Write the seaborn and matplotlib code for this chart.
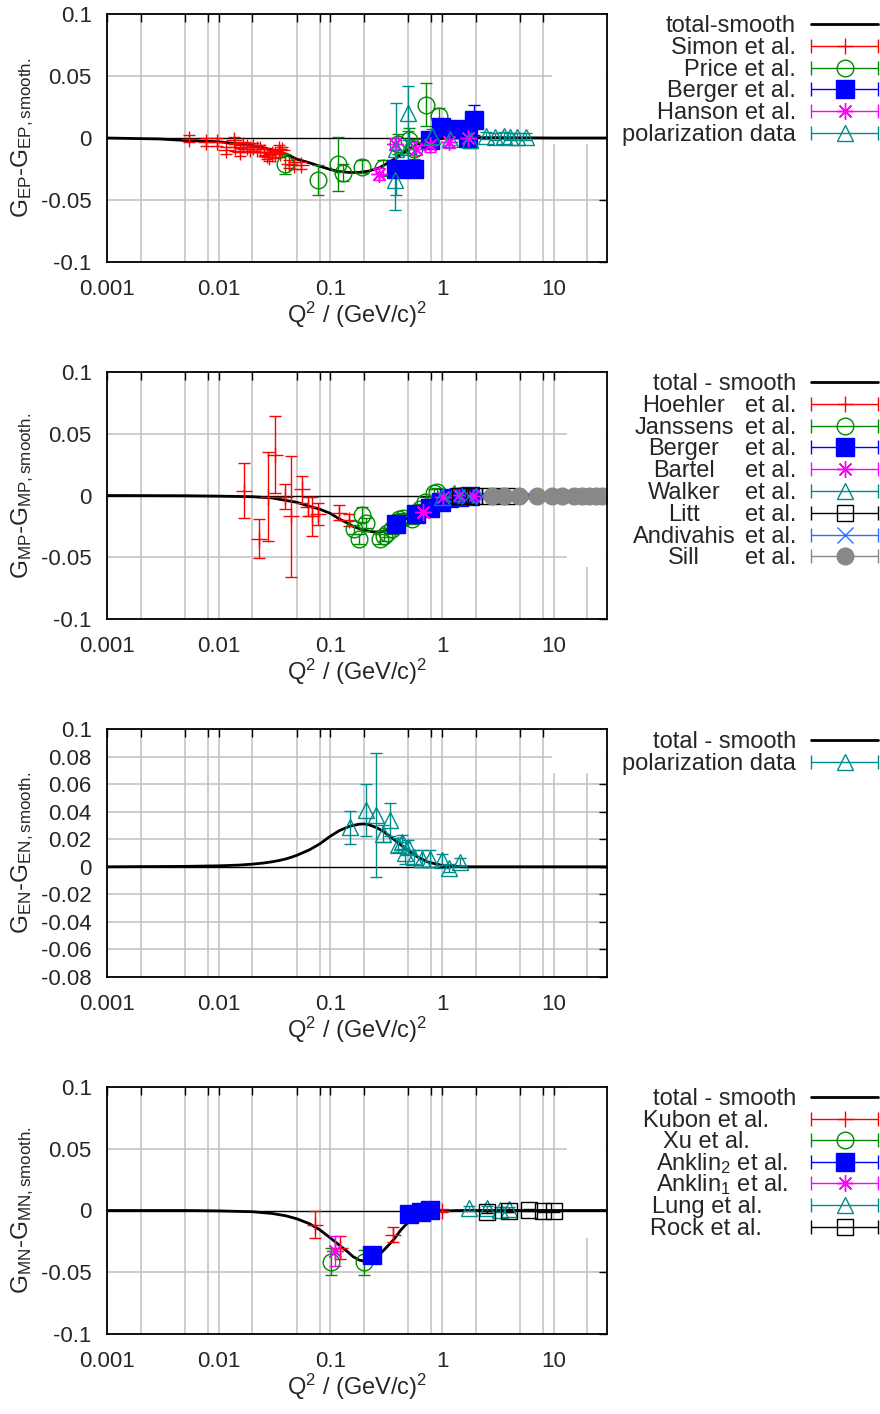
import numpy as np
import pandas as pd
import matplotlib
matplotlib.use("Agg")
import matplotlib.pyplot as plt
import seaborn as sns
from matplotlib.ticker import FixedLocator, FuncFormatter, NullLocator
from matplotlib.patches import Rectangle

# ------------------------------------------------------------------ data
# Panel 1 : G_EP
gep_curve_q2 = [0.001, 0.003, 0.005, 0.01, 0.02, 0.03, 0.04, 0.05, 0.065, 0.08, 0.1, 0.12, 0.15,
                0.18, 0.22, 0.27, 0.33, 0.4, 0.5, 0.6, 0.75, 1.0, 1.5, 3.0, 10.0, 30.0]
gep_curve_y = [0.0, -0.0008, -0.002, -0.003, -0.006, -0.0095, -0.013, -0.017, -0.020, -0.0227, -0.0254,
               -0.027, -0.0278, -0.0278, -0.0267, -0.0243, -0.020, -0.0154, -0.0092, -0.0051, -0.0019,
               -0.0003, 0.0003, 0.0003, 0.0, 0.0]
simon_q2 = [0.00547, 0.0077, 0.00963, 0.0117, 0.0136, 0.0141, 0.0156, 0.0165, 0.0179, 0.0191, 0.0205,
            0.0220, 0.0236, 0.0253, 0.0271, 0.0284, 0.0300, 0.0322, 0.0345, 0.0357, 0.0369, 0.0424,
            0.0470, 0.0541]
simon_y = [-0.0005, -0.0032, -0.0032, -0.0100, -0.0019, -0.0073, -0.0113, -0.0059, -0.0073, -0.0086,
           -0.0073, -0.0086, -0.0086, -0.0113, -0.0140, -0.0154, -0.0127, -0.0132, -0.0086, -0.0122,
           -0.0100, -0.0208, -0.0221, -0.0221]
simon_err = [0.003] * 24
price_q2 = [0.039, 0.078, 0.116, 0.129, 0.192, 0.295, 0.40, 0.51, 0.566, 0.72, 0.946]
price_y = [-0.021, -0.034, -0.021, -0.028, -0.023, -0.024, -0.005, -0.002, -0.009, 0.027, 0.018]
price_err = [0.008, 0.012, 0.022, 0.007, 0.005, 0.006, 0.008, 0.010, 0.008, 0.017, 0.006]
bergerE_q2 = [0.39, 0.56, 0.78, 0.97, 1.32, 1.70, 1.93]
bergerE_y = [-0.0246, -0.0246, -0.002, 0.009, 0.0076, 0.0, 0.0143]
bergerE_err = [0.004, 0.004, 0.005, 0.005, 0.006, 0.006, 0.012]
hanson_q2 = [0.27, 0.38, 0.58, 0.78, 1.16, 1.70]
hanson_y = [-0.029, -0.0046, -0.0086, -0.006, -0.003, 0.0]
hanson_err = [0.005, 0.005, 0.005, 0.005, 0.005, 0.005]
polE_q2 = [0.38, 0.39, 0.50, 0.50, 0.81, 1.19, 1.78, 2.5, 3.0, 3.57, 4.1, 4.7, 5.6]
polE_y = [-0.034, -0.0086, 0.020, -0.007, 0.002, -0.0005, -0.002, 0.002, 0.001, 0.002, 0.001, 0.001, 0.001]
polE_err = [0.024, 0.037, 0.022, 0.013, 0.005, 0.005, 0.006, 0.003, 0.003, 0.003, 0.003, 0.003, 0.003]

# Panel 2 : G_MP
gmp_curve_q2 = [0.001, 0.005, 0.01, 0.02, 0.03, 0.04, 0.05, 0.065, 0.08, 0.1, 0.12, 0.14, 0.16, 0.18,
                0.2, 0.24, 0.28, 0.33, 0.4, 0.5, 0.6, 0.75, 1.0, 1.4, 2.0, 5.0, 30.0]
gmp_curve_y = [0.0, -0.0002, -0.0005, -0.001, -0.002, -0.004, -0.0055, -0.0088, -0.011, -0.0145, -0.019,
               -0.022, -0.025, -0.0267, -0.028, -0.0294, -0.0296, -0.028, -0.024, -0.0174, -0.0128,
               -0.0077, -0.0035, -0.0013, -0.0003, 0.0, 0.0]
hoehler_q2 = [0.0169, 0.0232, 0.0279, 0.032, 0.039, 0.0446, 0.056, 0.0625, 0.069, 0.078, 0.119, 0.146]
hoehler_y = [0.004, -0.035, -0.001, 0.033, -0.001, -0.017, 0.005, -0.009, -0.017, -0.015, -0.014, -0.020]
hoehler_err = [0.022, 0.016, 0.036, 0.031, 0.010, 0.049, 0.011, 0.008, 0.016, 0.009, 0.006, 0.005]
janssens_q2 = [0.162, 0.179, 0.192, 0.21, 0.28, 0.30, 0.32, 0.36, 0.41, 0.45, 0.54, 0.64, 0.71, 0.84, 0.90]
janssens_y = [-0.0275, -0.035, -0.0155, -0.022, -0.035, -0.033, -0.030, -0.027, -0.019, -0.018, -0.019,
              -0.011, -0.005, 0.002, 0.003]
janssens_err = [0.004, 0.004, 0.006, 0.004, 0.004, 0.004, 0.004, 0.004, 0.004, 0.004, 0.004, 0.004,
                0.004, 0.003, 0.003]
bergerM_q2 = [0.39, 0.59, 0.785, 0.97, 1.15, 1.41, 1.79]
bergerM_y = [-0.023, -0.015, -0.010, -0.005, -0.002, -0.001, 0.0]
bergerM_err = [0.004, 0.003, 0.003, 0.003, 0.003, 0.003, 0.003]
bartel_q2 = [0.68, 1.03, 1.41, 1.9]
bartel_y = [-0.013, -0.001, 0.0005, 0.0]
bartel_err = [0.004, 0.003, 0.003, 0.003]
walker_q2 = [1.0, 1.27, 1.6]
walker_y = [-0.001, 0.002, 0.0]
walker_err = [0.003, 0.003, 0.003]
litt_q2 = [1.46, 1.92, 2.7, 3.8]
litt_y = [0.0, 0.0, 0.0, 0.0]
litt_err = [0.002, 0.002, 0.002, 0.002]
andivahis_q2 = [1.75, 2.35, 4.3, 6.1]
andivahis_y = [0.0, 0.0, 0.0, 0.0]
andivahis_err = [0.002, 0.002, 0.002, 0.002]
sill_q2 = [2.8, 3.6, 4.9, 7.1, 9.7, 11.9, 15.1, 18.0, 20.6, 23.7, 27.2]
sill_y = [0.0] * 11
sill_err = [0.001] * 11

# Panel 3 : G_EN
gen_curve_q2 = [0.001, 0.003, 0.005, 0.01, 0.015, 0.02, 0.025, 0.03, 0.035, 0.04, 0.045, 0.05, 0.065,
                0.08, 0.1, 0.12, 0.15, 0.18, 0.2, 0.22, 0.26, 0.3, 0.35, 0.4, 0.5, 0.6, 0.75, 1.0, 1.5, 30.0]
gen_curve_y = [0.0, 0.0002, 0.0003, 0.0007, 0.0012, 0.0019, 0.0027, 0.0036, 0.0046, 0.0057, 0.0070,
               0.0083, 0.0123, 0.0165, 0.0222, 0.0262, 0.0295, 0.0309, 0.0311, 0.0306, 0.0284, 0.0255,
               0.0214, 0.0177, 0.0117, 0.0073, 0.0034, 0.001, 0.0, 0.0]
polN_q2 = [0.151, 0.209, 0.257, 0.296, 0.344, 0.40, 0.44, 0.47, 0.50, 0.556, 0.66, 0.785, 1.0, 1.15, 1.46]
polN_y = [0.0287, 0.041, 0.0377, 0.024, 0.034, 0.016, 0.018, 0.0097, 0.0146, 0.0073, 0.006, 0.006, 0.005,
          -0.001, 0.0036]
polN_err = [0.012, 0.019, 0.045, 0.006, 0.012, 0.005, 0.005, 0.008, 0.005, 0.005, 0.006, 0.006, 0.004,
            0.003, 0.003]

# Panel 4 : G_MN
gmn_curve_q2 = [0.001, 0.005, 0.01, 0.02, 0.03, 0.04, 0.05, 0.065, 0.08, 0.1, 0.12, 0.14, 0.16, 0.18,
                0.2, 0.22, 0.25, 0.28, 0.32, 0.37, 0.43, 0.5, 0.6, 0.75, 1.0, 1.5, 30.0]
gmn_curve_y = [0.0, 0.0, -0.0003, -0.001, -0.0024, -0.0043, -0.0067, -0.0107, -0.0155, -0.0222, -0.028,
               -0.0328, -0.0374, -0.040, -0.0411, -0.0408, -0.0387, -0.035, -0.0296, -0.0235, -0.0155,
               -0.0093, -0.0048, -0.0016, -0.0003, 0.0, 0.0]
kubon_q2 = [0.073, 0.122, 0.363, 0.99]
kubon_y = [-0.0115, -0.030, -0.0195, 0.0]
kubon_err = [0.011, 0.009, 0.006, 0.001]
xu_q2 = [0.101, 0.20]
xu_y = [-0.0414, -0.042]
xu_err = [0.011, 0.010]
anklin2_q2 = [0.236, 0.51, 0.65, 0.785]
anklin2_y = [-0.0363, -0.003, -0.0013, 0.0005]
anklin2_err = [0.003, 0.003, 0.003, 0.003]
anklin1_q2 = [0.11]
anklin1_y = [-0.033]
anklin1_err = [0.012]
lung_q2 = [1.73, 2.53, 3.3, 4.0]
lung_y = [0.002, 0.002, 0.0005, 0.001]
lung_err = [0.002, 0.002, 0.002, 0.002]
rock_q2 = [2.53, 4.0, 6.0, 8.1, 10.0]
rock_y = [-0.001, 0.0, 0.0005, -0.0003, -0.0003]
rock_err = [0.001, 0.001, 0.001, 0.001, 0.001]

xtick_major = [0.001, 0.01, 0.1, 1, 10]
xtick_minor = [0.002, 0.005, 0.008, 0.02, 0.05, 0.08, 0.2, 0.5, 0.8, 2, 5, 8, 20]
yticks_a = [-0.1, -0.05, 0.0, 0.05, 0.1]
yticks_c = [-0.08, -0.06, -0.04, -0.02, 0.0, 0.02, 0.04, 0.06, 0.08, 0.1]

# ------------------------------------------------------------------ style
sns.set_theme(style="white")
plt.rcParams["font.family"] = ["Liberation Sans", "DejaVu Sans"]
plt.rcParams["mathtext.fontset"] = "custom"
plt.rcParams["mathtext.rm"] = "Liberation Sans"
plt.rcParams["mathtext.it"] = "Liberation Sans:italic"
plt.rcParams["mathtext.bf"] = "Liberation Sans:bold"
FS = 16
FS_KEY = 17
FS_LAB = 17.5

RED, GREEN, BLUE, MAG, TEAL, BLK, LBLUE, GREY = ("#ff0000", "#008a00", "#0000ff", "#ff00ff",
                                                 "#008b8b", "#000000", "#2a6fff", "#888888")
STYLES = {
    "plus": dict(marker="+", filled=False, ms=12),
    "circle": dict(marker="o", filled=False, ms=12),
    "fsquare": dict(marker="s", filled=True, ms=12.5),
    "star": dict(marker=(8, 2, 0), filled=False, ms=12),
    "tri": dict(marker="^", filled=False, ms=12),
    "square": dict(marker="s", filled=False, ms=12),
    "x": dict(marker="x", filled=False, ms=12),
    "fcircle": dict(marker="o", filled=True, ms=12),
}

W, H = 880, 1414
fig = plt.figure(figsize=(W / 100, H / 100), dpi=100)
ov = fig.add_axes([0, 0, 1, 1], zorder=10)
ov.set_xlim(0, W)
ov.set_ylim(H, 0)
ov.axis("off")

XLABEL = r"Q$^2$ / (GeV/c)$^2$"


def make_axes(top, bottom, ylim, yticks, white_x, white_y):
    ax = fig.add_axes([107 / W, 1 - bottom / H, 500 / W, (bottom - top) / H])
    ax.set_xscale("log")
    ax.set_xlim(0.001, 30)
    ax.set_ylim(*ylim)
    ticks = sorted(xtick_major + xtick_minor)
    ax.xaxis.set_major_locator(FixedLocator(ticks))
    ax.xaxis.set_minor_locator(NullLocator())
    ax.xaxis.set_major_formatter(FuncFormatter(lambda v, p: ("%g" % v) if v in xtick_major else ""))
    ax.yaxis.set_major_locator(FixedLocator(yticks))
    ax.yaxis.set_major_formatter(FuncFormatter(lambda v, p: "%g" % round(v, 3)))
    ax.tick_params(direction="in", length=6, width=1, top=True, right=True, labelsize=FS, color="black")
    ax.tick_params(axis="y", pad=11)
    ax.tick_params(axis="x", pad=12.5)
    for s in ax.spines.values():
        s.set_color("black")
        s.set_linewidth(1.3)
        s.set_zorder(5)
    # grid
    for t in ticks:
        ax.axvline(t, color="#c0c0c0", lw=1.1, zorder=0.5)
    for t in yticks:
        if abs(t) > 1e-9:
            ax.axhline(t, color="#c0c0c0", lw=1.1, zorder=0.5)
    ax.add_patch(Rectangle((white_x, white_y), 1 - white_x, 1 - white_y, transform=ax.transAxes,
                           facecolor="white", edgecolor="none", zorder=0.8))
    ax.axhline(0, color="black", lw=1.0, zorder=1)
    return ax


def labels(ax, ylabel):
    ax.set_ylabel(ylabel, fontsize=FS_LAB, va="center")
    ax.yaxis.set_label_coords(-0.168, 0.5)
    ax.set_xlabel(XLABEL, fontsize=FS_KEY, va="center")
    ax.xaxis.set_label_coords(0.5, -0.215)


def curve(ax, q2, y):
    df = pd.DataFrame({"q2": q2, "y": y})
    sns.lineplot(data=df, x="q2", y="y", ax=ax, color="black", lw=2.0, sort=False,
                 estimator=None, zorder=3)


def points(ax, q2, y, err, color, style):
    st = STYLES[style]
    ax.errorbar(q2, y, yerr=err, fmt="none", ecolor=color, elinewidth=1.0, capsize=4,
                capthick=1.0, zorder=4)
    ax.plot(q2, y, linestyle="none", marker=st["marker"], ms=st["ms"], mec=color,
            mfc=color if st["filled"] else "none", mew=1.0, zorder=4.5)


def key_line(y):
    ov.plot([811, 878], [y, y], color="black", lw=2.0)


def key_err(y, color, style):
    st = STYLES[style]
    ov.errorbar([844.5], [y], xerr=[[33.5], [33.5]], fmt="none", ecolor=color, elinewidth=1.0,
                capsize=5, capthick=1.0)
    ov.plot([844.5], [y], linestyle="none", marker=st["marker"], ms=st["ms"], mec=color,
            mfc=color if st["filled"] else "none", mew=1.0)


def key_text(x, y, s, ha="right"):
    ov.text(x, y + 8, s, ha=ha, va="baseline", fontsize=FS_KEY)


# ------------------------------------------------------------------ panel 1
ax1 = make_axes(14, 262, (-0.1, 0.1), yticks_a, 0.89, 0.476)
curve(ax1, gep_curve_q2, gep_curve_y)
points(ax1, simon_q2, simon_y, simon_err, RED, "plus")
points(ax1, price_q2, price_y, price_err, GREEN, "circle")
points(ax1, bergerE_q2, bergerE_y, bergerE_err, BLUE, "fsquare")
points(ax1, hanson_q2, hanson_y, hanson_err, MAG, "star")
points(ax1, polE_q2, polE_y, polE_err, TEAL, "tri")
labels(ax1, r"G$_{\mathrm{EP}}$-G$_{\mathrm{EP,smooth.}}$")
rows = [24 + 21.8 * i for i in range(6)]
key_text(796, rows[0], "total-smooth"); key_line(rows[0])
for r, (lab, col, st) in zip(rows[1:], [("Simon et al.", RED, "plus"), ("Price et al.", GREEN, "circle"),
                                        ("Berger et al.", BLUE, "fsquare"), ("Hanson et al.", MAG, "star"),
                                        ("polarization data", TEAL, "tri")]):
    key_text(796, r, lab); key_err(r, col, st)

# ------------------------------------------------------------------ panel 2
ax2 = make_axes(372, 619, (-0.1, 0.1), yticks_a, 0.92, 0.21)
curve(ax2, gmp_curve_q2, gmp_curve_y)
points(ax2, hoehler_q2, hoehler_y, hoehler_err, RED, "plus")
points(ax2, janssens_q2, janssens_y, janssens_err, GREEN, "circle")
points(ax2, bergerM_q2, bergerM_y, bergerM_err, BLUE, "fsquare")
points(ax2, bartel_q2, bartel_y, bartel_err, MAG, "star")
points(ax2, walker_q2, walker_y, walker_err, TEAL, "tri")
points(ax2, litt_q2, litt_y, litt_err, BLK, "square")
points(ax2, andivahis_q2, andivahis_y, andivahis_err, LBLUE, "x")
points(ax2, sill_q2, sill_y, sill_err, GREY, "fcircle")
labels(ax2, r"G$_{\mathrm{MP}}$-G$_{\mathrm{MP,smooth.}}$")
rows = [382 + 21.8 * i for i in range(9)]
key_text(796, rows[0], "total - smooth"); key_line(rows[0])
for r, (lab, col, st) in zip(rows[1:], [("Hoehler", RED, "plus"), ("Janssens", GREEN, "circle"),
                                        ("Berger", BLUE, "fsquare"), ("Bartel", MAG, "star"),
                                        ("Walker", TEAL, "tri"), ("Litt", BLK, "square"),
                                        ("Andivahis", LBLUE, "x"), ("Sill", GREY, "fcircle")]):
    key_text(684, r, lab, ha="center"); key_text(796, r, "et al."); key_err(r, col, st)

# ------------------------------------------------------------------ panel 3
ax3 = make_axes(729, 977, (-0.08, 0.1), yticks_c, 0.89, 0.823)
curve(ax3, gen_curve_q2, gen_curve_y)
points(ax3, polN_q2, polN_y, polN_err, TEAL, "tri")
labels(ax3, r"G$_{\mathrm{EN}}$-G$_{\mathrm{EN,smooth.}}$")
rows = [740 + 21.8 * i for i in range(2)]
key_text(796, rows[0], "total - smooth"); key_line(rows[0])
key_text(796, rows[1], "polarization data"); key_err(rows[1], TEAL, "tri")

# ------------------------------------------------------------------ panel 4
ax4 = make_axes(1087, 1334, (-0.1, 0.1), yticks_a, 0.92, 0.389)
curve(ax4, gmn_curve_q2, gmn_curve_y)
points(ax4, kubon_q2, kubon_y, kubon_err, RED, "plus")
points(ax4, xu_q2, xu_y, xu_err, GREEN, "circle")
points(ax4, anklin2_q2, anklin2_y, anklin2_err, BLUE, "fsquare")
points(ax4, anklin1_q2, anklin1_y, anklin1_err, MAG, "star")
points(ax4, lung_q2, lung_y, lung_err, TEAL, "tri")
points(ax4, rock_q2, rock_y, rock_err, BLK, "square")
labels(ax4, r"G$_{\mathrm{MN}}$-G$_{\mathrm{MN,smooth.}}$")
rows = [1097 + 21.6 * i for i in range(7)]
key_text(796, rows[0], "total - smooth"); key_line(rows[0])
entries4 = [("Kubon et al.", RED, "plus", 706), ("Xu et al.", GREEN, "circle", 706),
            (r"Anklin$_2$ et al.", BLUE, "fsquare", 722), (r"Anklin$_1$ et al.", MAG, "star", 722),
            ("Lung et al.", TEAL, "tri", 707), ("Rock et al.", BLK, "square", 706)]
for r, (lab, col, st, cx) in zip(rows[1:], entries4):
    key_text(cx, r, lab, ha="center"); key_err(r, col, st)

fig.savefig("out.png", dpi=100)
